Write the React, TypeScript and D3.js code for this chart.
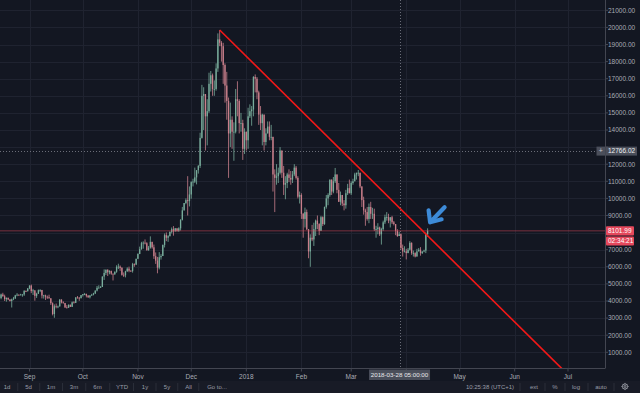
import React from 'react';
import * as d3 from 'd3';

const W = 640, H = 393;
const plotRight = 605, plotBottom = 368.5;
const font = 'Liberation Sans, Arial, sans-serif';

// daily BTCUSD, 2017-08-15 .. 2018-04-13 (open = previous close)
const firstDay = '2017-08-15';
const firstOpen = 4070;
const closes = [
  // Aug
  4170, 4380, 4280, 4110, 4190, 4090, 4000, 4100, 4150, 4330, 4370, 4350, 4380, 4380, 4580, 4570, 4740,
  // Sep
  4900, 4580, 4620, 4300, 4420, 4630, 4640, 4320, 4330, 4250, 4220, 4160, 3870, 3240, 3690, 3680, 3680, 4080, 3920, 3880,
  3630, 3610, 3780, 3660, 3920, 3890, 4210, 4190, 4160, 4340,
  // Oct
  4400, 4410, 4310, 4220, 4320, 4370, 4440, 4610, 4770, 4780, 4820, 5430, 5640, 5830, 5680, 5750, 5600, 5570, 5710, 6000,
  6010, 5930, 5530, 5510, 5740, 5890, 5770, 5750, 6150, 6130, 6470,
  // Nov
  6750, 7030, 7380, 7410, 7380, 6960, 7120, 7460, 7140, 6620, 6360, 5950, 6560, 6630, 7280, 7850, 7700, 7790, 8040, 8200,
  8070, 8250, 8100, 8250, 8750, 9300, 9730, 9900, 9840, 10230,
  // Dec
  10950, 10980, 11230, 11650, 11900, 13540, 16000, 16100, 14800, 15100, 16700, 17200, 16400, 16400, 17600, 19300, 19100, 18900, 17800, 16600,
  15700, 13800, 14600, 13900, 13900, 15800, 15700, 14400, 14400, 12900, 13900,
  // Jan
  13400, 14800, 15100, 15200, 17100, 17000, 16200, 14900, 14400, 14900, 13300, 13800, 14200, 13600, 13600, 11400, 11200, 11300, 11500, 12800,
  11500, 10800, 10900, 11400, 11200, 11100, 11400, 11800, 11200, 10100, 10200,
  // Feb
  9100, 8800, 9200, 8200, 6900, 7700, 7600, 8200, 8700, 8500, 8100, 8900, 8500, 9500, 10000, 10200, 11100, 10400, 11000, 11400,
  10500, 9800, 10200, 9700, 9600, 10300, 10600, 10300,
  // Mar
  10900, 11000, 11400, 11500, 11500, 10700, 9900, 9300, 9200, 8800, 9500, 9100, 9100, 8200, 8200, 8300, 7900, 8200, 8600, 8900,
  8900, 8700, 8900, 8600, 8500, 8100, 7800, 7900, 7100, 6900, 6900,
  // Apr
  6800, 7000, 7400, 6800, 6800, 6600, 6900, 7000, 6800, 6900, 6950, 7900, 8101.99,
];
const highs = [
  4250, 4430, 4480, 4370, 4200, 4190, 4100, 4140, 4240, 4360, 4460, 4380, 4420, 4400, 4640, 4620, 4750,
  4920, 4960, 4710, 4630, 4480, 4670, 4690, 4650, 4360, 4370, 4320, 4370, 4160, 3920, 3800, 3850, 3730, 4110, 4100, 3980,
  3890, 3760, 3800, 3790, 3970, 3990, 4220, 4290, 4230, 4350,
  4410, 4470, 4430, 4350, 4350, 4420, 4480, 4620, 4880, 4920, 4880, 5440, 5850, 5840, 5850, 5800, 5780, 5580, 5730, 6090,
  6180, 6080, 5990, 5670, 5770, 5970, 6010, 5800, 6230, 6200, 6470,
  6790, 7180, 7460, 7490, 7600, 7440, 7220, 7780, 7460, 7300, 6840, 6580, 6860, 6740, 7300, 7950, 8010, 7850, 8070, 8300,
  8380, 8270, 8250, 8310, 8780, 9500, 9730, 10000, 11300, 10700,
  11000, 11150, 11800, 11650, 11950, 13840, 16640, 16500, 15900, 15800, 17350, 17450, 17300, 16900, 17900, 19650, 19850, 19200, 19100, 17900,
  17400, 15900, 15600, 14800, 14450, 16400, 16850, 15800, 15000, 14600, 14100,
  13900, 15300, 15500, 15400, 17150, 17250, 17100, 16300, 15400, 14950, 14900, 14100, 14500, 14500, 14300, 13600, 11700, 12000, 11800, 13000,
  12800, 11900, 11300, 11500, 11700, 11600, 11600, 12000, 11900, 11300, 10400,
  10300, 9150, 9460, 9350, 8200, 7900, 8450, 8580, 8760, 9000, 8550, 8980, 8950, 9520, 10200, 10300, 11100, 11100, 11250, 11780,
  11300, 10900, 10400, 10200, 9900, 10500, 10850, 11100,
  11000, 11150, 11500, 11500, 11660, 11500, 10700, 10100, 9400, 9500, 9700, 9800, 9450, 9400, 8400, 8550, 8350, 8280, 8700, 9050,
  9200, 9100, 8900, 8980, 8680, 8500, 8200, 8050, 7950, 7300, 7200,
  7050, 7100, 7500, 7430, 6950, 6850, 7050, 7100, 7150, 6900, 7000, 8000, 8250,
];
const lows = [
  3950, 4100, 4250, 4000, 3960, 4050, 3970, 3620, 4050, 4120, 4280, 4300, 4330, 4250, 4300, 4520, 4560,
  4690, 4460, 4350, 4020, 4180, 4420, 4520, 4150, 4140, 4060, 4120, 4140, 3770, 3160, 3020, 3570, 3580, 3680, 3860, 3850,
  3590, 3560, 3590, 3650, 3650, 3860, 3890, 4140, 4010, 4160,
  4260, 4340, 4210, 4180, 4150, 4300, 4330, 4410, 4560, 4730, 4760, 4820, 5230, 5520, 5460, 5560, 5530, 5200, 5520, 5650,
  5870, 5760, 5480, 5400, 5380, 5700, 5680, 5710, 5660, 6000, 6100,
  6450, 6740, 7000, 7060, 7310, 6980, 6950, 7060, 7060, 6460, 6170, 5620, 5850, 6420, 6630, 7130, 7500, 7460, 7780, 7950,
  7820, 8060, 8050, 8040, 8120, 8710, 9290, 9660, 9000, 9530,
  9980, 10700, 10900, 10820, 11450, 11780, 13500, 14000, 12800, 13100, 15000, 16250, 16000, 16000, 16300, 17400, 18900, 18000, 16700, 15600,
  14600, 11200, 13000, 12900, 12200, 13800, 14800, 13800, 13900, 12250, 12600,
  12800, 12900, 14700, 14250, 14800, 16200, 15800, 14300, 14000, 13100, 12800, 13100, 13800, 13400, 13400, 10400, 9200, 10800, 10900, 11400,
  11200, 10200, 9950, 10600, 10950, 10800, 10900, 11300, 11100, 10000, 9700,
  8800, 7700, 8300, 8150, 6500, 6000, 7500, 7220, 7800, 8200, 7850, 8100, 8380, 8450, 9400, 9600, 10100, 10200, 10300, 10900,
  10300, 9800, 9600, 9550, 9300, 9400, 10200, 10300,
  10200, 10800, 11000, 11100, 11300, 10600, 9500, 9050, 8400, 8700, 8550, 8800, 8800, 8100, 7700, 7900, 7800, 7300, 8100, 8500,
  8700, 8550, 8300, 8500, 8420, 7850, 7750, 7800, 7000, 6600, 6850,
  6430, 6800, 6950, 6700, 6600, 6550, 6600, 6900, 6650, 6750, 6850, 6800, 7750,
];

const priceTicks = [1000, 2000, 3000, 4000, 5000, 6000, 7000, 8000, 9000, 10000, 11000, 12000, 13000, 14000, 15000, 16000, 17000, 18000, 19000, 20000, 21000];
const monthDates = ['2017-09-01', '2017-10-01', '2017-11-01', '2017-12-01', '2018-01-01', '2018-02-01', '2018-03-01', '2018-04-01', '2018-05-01', '2018-06-01', '2018-07-01'];
// Apr is hidden under the crosshair time label
const monthLabels = ['Sep', 'Oct', 'Nov', 'Dec', '2018', 'Feb', 'Mar', '', 'May', 'Jun', 'Jul'];

// trend line drawn on the chart
const trendDates = ['2017-12-17', '2018-06-28'];
const trendValues = [19850, 0];

const lastPrice = 8101.99;
const countdown = '02:34:21';
const crossPrice = 12766.02;
const crossTime = '2018-03-28T05:00:00Z';
const crossTimeLabel = '2018-03-28 05:00:00';

const toolbarLeft = ['1d', '5d', '1m', '3m', '6m', 'YTD', '1y', '5y', 'All', 'Go to...'];
const toolbarLeftX = [7, 28.5, 51, 74, 97.5, 122, 145, 167, 188.5, 217];
const toolbarRight = ['10:25:38 (UTC+1)', 'ext', '%', 'log', 'auto'];
const toolbarRightX = [490, 534, 555, 576, 601];

const UP = '#79ad9c';
const DOWN = '#c97f8b';

export default function App() {
  const parse = d3.utcParse('%Y-%m-%d');
  const start = parse(firstDay) as Date;
  const x = d3.scaleUtc()
    .domain([parse('2017-09-01') as Date, parse('2018-07-01') as Date])
    .range([29.5, 568]);
  const y = d3.scaleLinear().domain([0, 21000]).range([369.4, 10.3]);

  const candles = closes.map((c, i) => {
    const o = i === 0 ? firstOpen : closes[i - 1];
    return {
      date: d3.utcDay.offset(start, i),
      o, c,
      h: Math.max(highs[i], o, c),
      l: Math.min(lows[i], o, c),
    };
  });

  const trendLine = d3.line<number>()
    .x((_, i) => x(parse(trendDates[i]) as Date))
    .y((v) => y(v))(trendValues);

  const fmt = d3.format('.2f');
  const last = candles[candles.length - 1];
  const ax = x(last.date) + 2;
  const ay = y(last.h) - 6;
  const crossX = x(new Date(crossTime));
  const crossY = y(crossPrice);
  const lastY = y(lastPrice);
  // tick labels covered by the price boxes on the axis
  const covered = (t: number) => Math.abs(y(t) - crossY) < 8 || (y(t) > lastY - 8 && y(t) < lastY + 17);

  return (
    <div style={{ position: 'absolute', left: 0, top: 0 }}>
      <svg width={W} height={H} style={{ display: 'block' }} fontFamily={font}>
        <defs>
          <clipPath id="plot">
            <rect x={0} y={0} width={plotRight} height={plotBottom} />
          </clipPath>
        </defs>
        <rect width={W} height={H} fill="#131722" />

        {/* grid */}
        <g stroke="#1f2330" strokeWidth={1}>
          {priceTicks.map((t) => (
            <line key={t} x1={0} x2={plotRight} y1={Math.round(y(t)) + 0.5} y2={Math.round(y(t)) + 0.5} />
          ))}
          {monthDates.map((d) => {
            const px = Math.round(x(parse(d) as Date)) + 0.5;
            return <line key={d} x1={px} x2={px} y1={0} y2={plotBottom} />;
          })}
        </g>

        {/* crosshair */}
        <g stroke="#6a6d78" strokeWidth={1} strokeDasharray="1,2">
          <line x1={0} x2={plotRight - 8} y1={Math.round(crossY) + 0.5} y2={Math.round(crossY) + 0.5} />
          <line x1={Math.round(crossX) + 0.5} x2={Math.round(crossX) + 0.5} y1={0} y2={plotBottom} />
        </g>

        {/* candles */}
        <g clipPath="url(#plot)">
          {candles.map((d, i) => {
            const cx = x(d.date);
            const col = d.c >= d.o ? UP : DOWN;
            const top = y(Math.max(d.o, d.c));
            const bot = y(Math.min(d.o, d.c));
            return (
              <g key={i}>
                <line x1={cx} x2={cx} y1={y(d.h)} y2={y(d.l)} stroke={col} strokeWidth={0.8} />
                <rect x={cx - 0.65} y={top} width={1.3} height={Math.max(0.8, bot - top)} fill={col} />
              </g>
            );
          })}
          <line x1={0} x2={plotRight} y1={lastY} y2={lastY} stroke="#e0475a" strokeOpacity={0.5} strokeWidth={1} />
          <path d={trendLine ?? ''} stroke="#f21818" strokeWidth={1.6} fill="none" />
        </g>

        {/* blue arrow */}
        <g stroke="#3d8bd8" strokeWidth={4.2} strokeLinecap="round" strokeLinejoin="round" fill="none">
          <line x1={ax + 15} y1={ay - 15} x2={ax + 2.5} y2={ay - 2} />
          <polyline points={`${ax - 1},${ay - 12} ${ax + 0.5},${ay} ${ax + 12},${ay - 3}`} />
        </g>

        {/* axes frame */}
        <line x1={0} x2={plotRight} y1={plotBottom} y2={plotBottom} stroke="#434651" />
        <line x1={plotRight + 0.5} x2={plotRight + 0.5} y1={0} y2={plotBottom} stroke="#434651" />

        {/* price axis */}
        <g fontSize={6.5} fill="#a9acb5">
          {priceTicks.map((t) => (
            <g key={t}>
              <line x1={plotRight} x2={plotRight + 3} y1={y(t)} y2={y(t)} stroke="#434651" />
              {!covered(t) && <text x={608} y={y(t) + 2.3}>{fmt(t)}</text>}
            </g>
          ))}
        </g>

        {/* time axis */}
        <g fontSize={6.5} fill="#a9acb5" textAnchor="middle">
          {monthDates.map((d, i) => {
            const px = x(parse(d) as Date);
            return (
              <g key={d}>
                <line x1={px} x2={px} y1={plotBottom} y2={plotBottom + 3} stroke="#434651" />
                {monthLabels[i] && <text x={px} y={378.5}>{monthLabels[i]}</text>}
              </g>
            );
          })}
        </g>

        {/* crosshair labels */}
        <rect x={crossX - 30.5} y={369.5} width={61} height={10.5} fill="#4a4e5a" />
        <text x={crossX} y={377.3} fontSize={6.2} fill="#e8e9ec" textAnchor="middle">{crossTimeLabel}</text>
        <rect x={596.5} y={crossY - 4.5} width={8.5} height={9} fill="#4a4e5a" />
        <text x={600.7} y={crossY + 2.3} fontSize={7} fill="#c8cad0" textAnchor="middle">+</text>
        <rect x={606} y={crossY - 4.5} width={31} height={9} fill="#4a4e5a" />
        <text x={608} y={crossY + 2.3} fontSize={6.5} fill="#eceef2">{fmt(crossPrice)}</text>

        {/* last price labels */}
        <rect x={606} y={lastY - 4.7} width={28} height={9.4} fill="#e5485c" rx={1} />
        <text x={608} y={lastY + 2.3} fontSize={6.5} fill="#ffffff">{fmt(lastPrice)}</text>
        <rect x={606} y={lastY + 5.6} width={28} height={9} fill="#e5485c" rx={1} />
        <text x={608} y={lastY + 12.5} fontSize={6.5} fill="#ffffff">{countdown}</text>

        {/* bottom toolbar */}
        <rect x={0} y={381} width={W} height={12} fill="#181b26" />
        <g fontSize={6} fill="#9a9da6" textAnchor="middle">
          {toolbarLeft.map((t, i) => (
            <text key={t} x={toolbarLeftX[i]} y={389}>{t}</text>
          ))}
          {toolbarRight.map((t, i) => (
            <text key={t} x={toolbarRightX[i]} y={389}>{t}</text>
          ))}
        </g>
        <g stroke="#2a2e39">
          {toolbarLeftX.slice(0, -1).map((px, i) => {
            const sx = (px + toolbarLeftX[i + 1]) / 2 + (i === 8 ? -4 : 0);
            return <line key={i} x1={sx} x2={sx} y1={383} y2={391} />;
          })}
          {[520, 545, 565, 588, 614].map((sx) => (
            <line key={sx} x1={sx} x2={sx} y1={383} y2={391} />
          ))}
        </g>
        <g transform="translate(625,386.5)" stroke="#9a9da6" fill="none" strokeWidth={0.9}>
          <circle r={2.6} />
          <circle r={1} />
          {d3.range(8).map((k) => {
            const a = (k * Math.PI) / 4;
            return <line key={k} x1={Math.cos(a) * 2.6} y1={Math.sin(a) * 2.6} x2={Math.cos(a) * 3.6} y2={Math.sin(a) * 3.6} />;
          })}
        </g>
      </svg>
    </div>
  );
}
